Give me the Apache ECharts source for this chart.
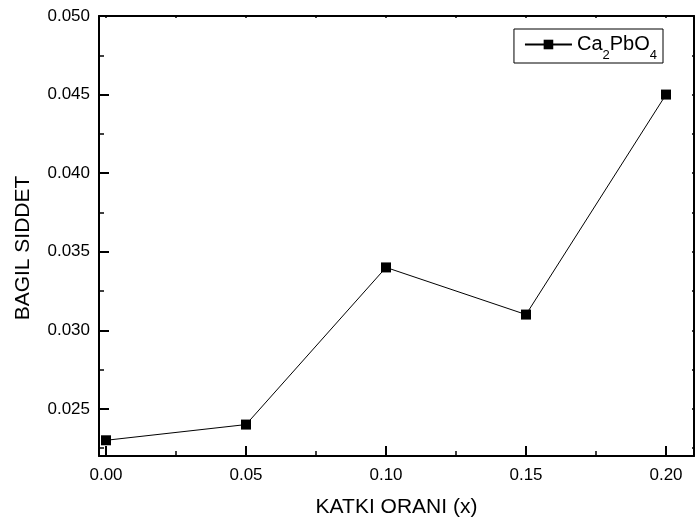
<!DOCTYPE html>
<html>
<head>
<meta charset="utf-8">
<script src="https://cdn.jsdelivr.net/npm/echarts@6/dist/echarts.min.js"></script>
<style>html,body{margin:0;padding:0;background:#fff}#c{width:696px;height:524px}</style>
</head>
<body>
<div id="c"></div>
<script>
var xValues = [0.00, 0.05, 0.10, 0.15, 0.20];
var yValues = [0.023, 0.024, 0.034, 0.031, 0.045];
var xMajorTicks = [0.00, 0.05, 0.10, 0.15, 0.20];
var xMinorTicks = [0.025, 0.075, 0.125, 0.175];
var yMajorTicks = [0.025, 0.030, 0.035, 0.040, 0.045, 0.050];
var yMinorTicks = [0.0225, 0.0275, 0.0325, 0.0375, 0.0425, 0.0475];
var seriesName = 'Ca2PbO4';

var chart = echarts.init(document.getElementById('c'));
var font = 'Liberation Sans, Arial, sans-serif';
var xMin = -0.0025, xMax = 0.21, yMin = 0.022, yMax = 0.050;
var xAll = xMajorTicks.concat(xMinorTicks).sort(function(a,b){return a-b;});
var yAll = yMajorTicks.concat(yMinorTicks).sort(function(a,b){return a-b;});

function hiddenAxis(pos, min, max, ticks, len, showLine, lw) {
  return {
    type: 'value', position: pos, min: min, max: max,
    axisLine: {show: showLine, onZero: false, lineStyle: {color: '#000', width: lw || 2}},
    axisTick: {show: true, inside: true, length: len, customValues: ticks, lineStyle: {color: '#000', width: 1.5}},
    axisLabel: {show: false},
    splitLine: {show: false}
  };
}

var data = xValues.map(function(x, i){ return [x, yValues[i]]; });

chart.setOption({
  animation: false,
  backgroundColor: '#fff',
  grid: {left: 99, top: 16, right: 2, bottom: 68, containLabel: false},
  legend: {
    show: true,
    right: 33, top: 29,
    orient: 'vertical',
    borderColor: '#000', borderWidth: 1, borderRadius: 0,
    padding: [4, 6, 1, 10],
    itemWidth: 47, itemHeight: 12, itemGap: 0,
    data: [seriesName],
    formatter: function(){ return '{m|Ca}{s|2}{m|PbO}{s|4}'; },
    textStyle: {
      color: '#000', fontFamily: font,
      rich: {
        m: {fontSize: 20, fontFamily: font, color: '#000', lineHeight: 20},
        s: {fontSize: 13, fontFamily: font, color: '#000', lineHeight: 20, padding: [16, 0, -6, 0]}
      }
    }
  },
  xAxis: [
    {
      type: 'value', position: 'bottom', min: xMin, max: xMax,
      name: 'KATKI ORANI (x)', nameLocation: 'middle', nameGap: 41,
      nameTextStyle: {fontSize: 21, fontFamily: font, color: '#000'},
      axisLine: {show: true, onZero: false, lineStyle: {color: '#000', width: 2}},
      axisTick: {show: true, inside: true, length: 10, customValues: xMajorTicks, lineStyle: {color: '#000', width: 2}},
      axisLabel: {show: true, customValues: xMajorTicks, margin: 11, fontSize: 17, fontFamily: font, color: '#000',
        formatter: function(v){ return v.toFixed(2); }},
      splitLine: {show: false}
    },
    hiddenAxis('bottom', xMin, xMax, xMinorTicks, 5, false),
    hiddenAxis('top', xMin, xMax, xAll, 2, true, 2)
  ],
  yAxis: [
    {
      type: 'value', position: 'left', min: yMin, max: yMax,
      name: 'BAGIL SIDDET', nameLocation: 'middle', nameGap: 65, nameRotate: 90,
      nameTextStyle: {fontSize: 21, fontFamily: font, color: '#000', padding: [0, 24, 0, 0]},
      axisLine: {show: true, onZero: false, lineStyle: {color: '#000', width: 2}},
      axisTick: {show: true, inside: true, length: 10, customValues: yMajorTicks, lineStyle: {color: '#000', width: 2}},
      axisLabel: {show: true, customValues: yMajorTicks, margin: 9, fontSize: 17, fontFamily: font, color: '#000',
        formatter: function(v){ return v.toFixed(3); }},
      splitLine: {show: false}
    },
    hiddenAxis('left', yMin, yMax, yMinorTicks, 5, false),
    hiddenAxis('right', yMin, yMax, yAll, 2, true, 2)
  ],
  series: [{
    name: seriesName,
    type: 'line',
    xAxisIndex: 0, yAxisIndex: 0,
    data: data,
    symbol: 'rect', symbolSize: 10,
    lineStyle: {color: '#000', width: 1},
    itemStyle: {color: '#000'},
    z: 5
  }]
});
</script>
</body>
</html>
